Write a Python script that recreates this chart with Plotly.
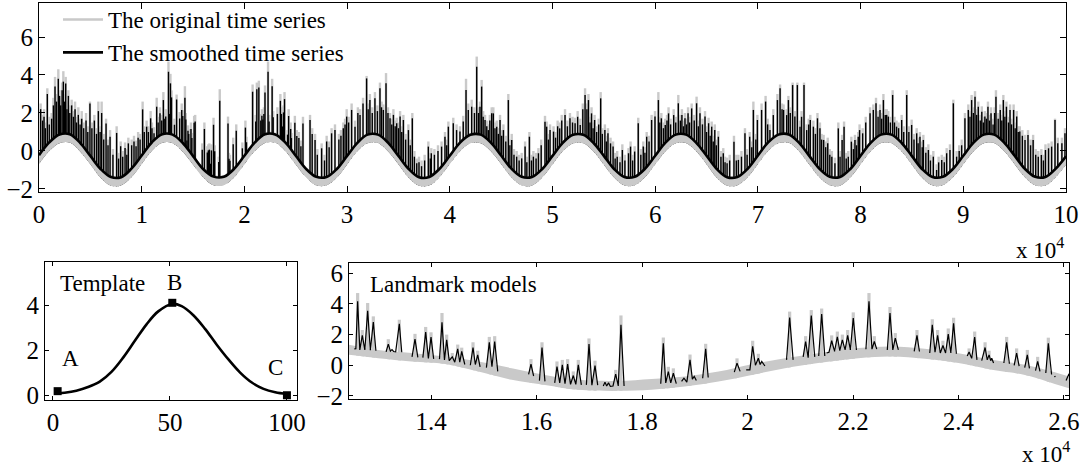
import plotly.graph_objects as go

# ------------------------------------------------------------------ data
# slow component of the series, sampled every 1000 samples (0 .. 100000)
SERIES_GRID = list(range(0, 100001, 1000))
SMOOTH_BASE = [
    -0.22, 0.45, 0.87, 0.88, 0.43, -0.26, -0.95, -1.37, -1.38, -0.93,
    -0.24, 0.46, 0.88, 0.86, 0.42, -0.27, -0.96, -1.35, -1.36, -0.94,
    -0.25, 0.44, 0.88, 0.87, 0.44, -0.25, -0.94, -1.36, -1.37, -0.95,
    -0.26, 0.43, 0.86, 0.86, 0.43, -0.26, -0.95, -1.38, -1.37, -0.94,
    -0.25, 0.44, 0.85, 0.86, 0.44, -0.24, -0.93, -1.36, -1.37, -0.95,
    -0.26, 0.43, 0.85, 0.85, 0.42, -0.26, -0.95, -1.37, -1.36, -0.94,
    -0.25, 0.44, 0.86, 0.86, 0.43, -0.25, -0.95, -1.38, -1.37, -0.94,
    -0.24, 0.45, 0.86, 0.87, 0.44, -0.26, -0.94, -1.36, -1.37, -0.95,
    -0.25, 0.44, 0.86, 0.86, 0.42, -0.27, -0.96, -1.37, -1.36, -0.94,
    -0.25, 0.44, 0.86, 0.86, 0.43, -0.25, -0.94, -1.36, -1.37, -0.93,
    -0.28,
]
ORIG_LOW = [
    -0.68, 0.00, 0.41, 0.44, -0.03, -0.70, -1.41, -1.83, -1.82, -1.39,
    -0.69, 0.01, 0.43, 0.41, -0.04, -0.72, -1.40, -1.81, -1.80, -1.40,
    -0.70, -0.02, 0.42, 0.43, -0.01, -0.71, -1.39, -1.82, -1.81, -1.41,
    -0.71, -0.01, 0.40, 0.42, -0.03, -0.70, -1.41, -1.83, -1.82, -1.38,
    -0.69, -0.01, 0.41, 0.40, -0.02, -0.69, -1.38, -1.81, -1.83, -1.40,
    -0.71, -0.02, 0.39, 0.41, -0.03, -0.72, -1.40, -1.82, -1.81, -1.39,
    -0.70, -0.01, 0.41, 0.42, -0.02, -0.70, -1.41, -1.83, -1.82, -1.39,
    -0.69, 0.00, 0.40, 0.43, -0.01, -0.71, -1.39, -1.81, -1.83, -1.40,
    -0.70, -0.01, 0.42, 0.41, -0.03, -0.72, -1.41, -1.82, -1.80, -1.39,
    -0.70, -0.01, 0.41, 0.42, -0.02, -0.70, -1.39, -1.81, -1.82, -1.38,
    -0.73,
]
ORIG_HIGH = [
    -0.12, 0.55, 0.97, 0.98, 0.53, -0.16, -0.85, -1.27, -1.28, -0.83,
    -0.14, 0.56, 0.98, 0.96, 0.52, -0.17, -0.86, -1.25, -1.26, -0.84,
    -0.15, 0.54, 0.98, 0.97, 0.54, -0.15, -0.84, -1.26, -1.27, -0.85,
    -0.16, 0.53, 0.96, 0.96, 0.53, -0.16, -0.85, -1.28, -1.27, -0.84,
    -0.15, 0.54, 0.95, 0.96, 0.54, -0.14, -0.83, -1.26, -1.27, -0.85,
    -0.16, 0.53, 0.95, 0.95, 0.52, -0.16, -0.85, -1.27, -1.26, -0.84,
    -0.15, 0.54, 0.96, 0.96, 0.53, -0.15, -0.85, -1.28, -1.27, -0.84,
    -0.14, 0.55, 0.96, 0.97, 0.54, -0.16, -0.84, -1.26, -1.27, -0.85,
    -0.15, 0.54, 0.96, 0.96, 0.52, -0.17, -0.86, -1.27, -1.26, -0.84,
    -0.15, 0.54, 0.96, 0.96, 0.53, -0.15, -0.84, -1.26, -1.27, -0.83,
    -0.18,
]

# spikes of the series: position, top of the smoothed series, top of the original
SPIKE_POS = [
    # cycle 0
    160, 350, 490, 620, 810, 1000, 1230, 1400, 1560, 1700,
    1880, 2000, 2110, 2250, 2370, 2500, 2600, 2720, 2860, 3000,
    3180, 3350, 3510, 3650, 3830, 4000, 4160, 4350, 4580, 4750,
    4960, 5150, 5390, 5600, 5780, 5950, 6100, 6300, 6530, 6720,
    6920, 7200, 7560, 7750, 7950, 8150, 8380, 8550, 8700, 9020,
    9250, 9450, 9650, 9840,
    # cycle 1 (before the zoomed window)
    10090, 10250, 10480, 10650, 10870, 11000, 11200, 11460, 11600, 11780,
    11950, 12110, 12250, 12340,
    # zoomed window (landmarks)
    12609, 12697, 12799, 12906, 13190, 13399, 13696, 13899, 14000, 14208,
    14297, 14403, 14506, 14582, 14796, 14885, 15105, 15207, 15895, 16104,
    16388, 16489, 16590, 16697, 16792, 16995, 17109, 17501, 17601, 18404,
    18499, 18594, 18910, 19207, 19801, 20098, 20205, 20799, 21102, 21209,
    21406, 21596, 21703, 21798, 21899, 22005, 22303, 22404, 22701, 22802,
    23213, 23503, 23604, 23705, 23806, 23907, 24201, 24307, 24504, 24580,
    24913, 25102, 25305, 25501, 25703,
    # cycle 2 (after the zoomed window)
    26390, 26600, 26880, 27100, 27520, 27800, 28010, 28250, 28490, 28820,
    29200, 29400, 29630, 29800, 29960,
    # cycle 3
    30150, 30440, 30770, 31050, 31260, 31550, 31900, 32050, 32220, 32450,
    32710, 32950, 33200, 33350, 33530, 33790, 33980, 34180, 34350, 34510,
    34680, 34830, 35000, 35160, 35320, 35480, 35700, 35970, 36150, 36350,
    36550, 36780, 37000, 37250, 37550, 37910, 38100, 38200, 38500, 38850,
    39200, 39530, 39700, 39860,
    # cycle 4
    40340, 40660, 40990, 41310, 41580, 41800, 42130, 42400, 42620, 42800,
    42940, 43100, 43250, 43430, 43600, 43750, 43900, 44080, 44240, 44400,
    44570, 44730, 44890, 45050, 45220, 45450, 45700, 45850, 46030, 46250,
    46510, 46750, 47000, 47330, 47500, 47750, 47950, 48140, 48400, 48630,
    48900, 49270, 49430, 49600, 49760,
    # cycle 5
    50100, 50300, 50500, 50700, 50900, 51220, 51450, 51700, 51950, 52200,
    52450, 52700, 52950, 53170, 53350, 53500, 53650, 53800, 53950, 54100,
    54300, 54500, 54690, 54850, 55100, 55250, 55400, 55650, 55900, 56100,
    56300, 56570, 56800, 57050, 57400, 57600, 57800, 58000, 58350, 58600,
    58840, 59000, 59170, 59400, 59650, 59980,
    # cycle 6
    60310, 60450, 60600, 60800, 60980, 61150, 61300, 61500, 61800, 62000,
    62250, 62450, 62600, 62750, 62900, 63050, 63200, 63350, 63550, 63800,
    64030, 64200, 64360, 64600, 64850, 65000, 65200, 65350, 65500, 65650,
    65800, 65950, 66150, 66400, 66630, 66800, 67000, 67250, 67670, 67900,
    68100, 68400, 68740, 68950, 69200, 69400, 69560, 69800,
    # cycle 7
    69950, 70360, 70750, 70950, 71170, 71500, 71900, 72160, 72350, 72500,
    72800, 72970, 73150, 73380, 73600, 73840, 74100, 74250, 74490, 74750,
    74950, 75100, 75400, 75600, 75800, 76040, 76200, 76400, 76600, 76800,
    77000, 77200, 77500, 77830, 78000, 78200, 78390, 78600, 78800, 79100,
    79300, 79450, 79600, 79770,
    # cycle 8
    79900, 80200, 80500, 80920, 81240, 81500, 81700, 81890, 82050, 82220,
    82400, 82540, 82700, 82900, 83120, 83300, 83500, 83700, 84000, 84200,
    84490, 84700, 84970, 85200, 85460, 85600, 85780, 86000, 86110, 86350,
    86600, 86800, 87080, 87400, 87600, 87900, 88150, 88380, 88700, 89030,
    89350, 89600, 89840,
    # cycle 9
    90160, 90490, 90650, 90810, 90980, 91140, 91300, 91460, 91650, 91800,
    91950, 92100, 92250, 92400, 92550, 92700, 92900, 93050, 93180, 93400,
    93600, 93750, 93900, 94050, 94200, 94400, 94550, 94700, 94900, 95050,
    95200, 95350, 95500, 95750, 96010, 96300, 96550, 96800, 97050, 97300,
    97600, 97800, 98000, 98300, 98600, 98930, 99200, 99600, 99900,
]
SPIKE_SMOOTH = [
    # cycle 0
    2.2, 1.6, 1.8, 1.2, 3.0, 1.4, 1.7, 2.4, 3.4, 2.6,
    3.8, 2.9, 2.4, 3.2, 3.65, 2.6, 3.55, 2.2, 2.9, 2.0,
    2.4, 1.8, 2.2, 1.5, 1.9, 1.4, 1.7, 1.2, 1.6, 1.0,
    2.5, 1.2, 1.6, 0.9, 2.1, 1.0, 2.0, 0.6, 1.45, 0.3,
    0.75, -0.2, 0.95, -0.4, 0.25, -0.3, 0.15, -0.2, 0.4, 0.3,
    0.5, 0.25, 0.7, 0.6,
    # cycle 1
    2.19, 1.0, 1.28, 1.0, 1.72, 1.2, 0.93, 2.33, 1.5, 1.98,
    1.6, 2.68, 1.7, 1.81,
    # zoomed window
    4.17, 1.95, 3.56, 2.82, 1.38, 2.71, 1.71, 2.16, 1.84, 2.80,
    1.66, 0.55, 1.07, 0.9, 1.16, 0.68, 1.49, 1.55, 0.07, 1.16,
    -0.08, 0.03, 0.07, -0.67, 0.03, 1.38, -0.02, -0.58, 2.64, 1.44,
    -0.41, -0.52, 0.36, 1.07, 0.14, 1.23, 0.46, 3.12, 1.55, 3.25,
    3.34, 1.60, 1.86, 1.66, 1.95, 3.08, 4.17, 1.55, 3.41, 1.77,
    1.95, 2.64, 1.95, 1.29, 2.03, 2.73, 0.86, 1.84, 1.16, 0.68,
    1.49, 0.79, 0.68, 0.25, 1.44,
    # cycle 2
    1.63, 0.9, 0.58, -0.2, 0.14, -0.5, 0.5, 0.2, 0.93, 1.1,
    0.6, 0.8, 1.2, 1.4, 1.81,
    # cycle 3
    1.5, 2.16, 1.28, 2.0, 1.9, 2.5, 3.82, 2.2, 2.68, 2.0,
    2.77, 2.1, 3.3, 2.3, 2.16, 3.56, 2.0, 1.72, 1.4, 1.9,
    1.3, 1.46, 1.2, 1.81, 1.0, 1.63, 0.6, 1.1, 0.3, 1.72,
    -0.3, -0.65, -0.6, -0.8, -0.5, 0.23, -0.4, -0.12, -0.2, 0.0,
    0.23, 0.75, 0.3, 1.28,
    # cycle 4
    1.46, 1.1, 1.02, 1.55, 3.21, 2.16, 2.33, 2.0, 4.44, 2.0,
    2.33, 3.39, 1.8, 1.63, 1.3, 1.1, 1.6, 1.98, 1.98, 1.2,
    1.28, 0.9, 1.63, 0.8, 1.1, 0.5, 2.68, 0.3, 0.58, -0.2,
    -0.3, -0.5, -0.39, 0.23, -0.6, 0.75, -0.5, -0.3, -0.4, -0.12,
    0.3, 1.54, 1.28, 0.6, 1.1,
    # cycle 5
    1.02, 0.7, 1.3, 1.19, 1.6, 1.89, 1.3, 1.72, 1.5, 1.46,
    1.8, 1.37, 2.2, 2.95, 2.2, 2.68, 1.5, 1.98, 1.2, 1.63,
    1.0, 1.4, 2.77, 0.9, 1.1, 0.5, 0.93, 0.4, 0.23, -0.4,
    -0.3, -0.6, 0.05, -0.5, -0.12, 0.23, -0.5, -0.03, 1.46, -0.2,
    0.23, -0.1, 0.75, 0.5, 1.63, 1.81,
    # cycle 6
    2.68, 1.5, 1.72, 1.2, 1.37, 1.6, 1.98, 1.4, 1.89, 1.5,
    2.51, 1.6, 1.89, 1.3, 1.72, 1.4, 1.98, 1.5, 2.24, 1.6,
    2.51, 1.3, 1.98, 1.4, 1.81, 1.0, 1.46, 0.8, 1.28, 0.5,
    1.1, 0.3, 0.75, -0.3, -0.12, -0.6, -0.65, -0.5, 0.49, -0.5,
    -0.47, -0.3, 0.93, -0.2, 0.75, 0.2, 2.16, 0.6,
    # cycle 7
    1.63, 2.16, 2.6, 1.4, 1.1, 1.89, 2.68, 3.3, 2.2, 2.16,
    1.89, 2.68, 2.0, 3.47, 1.81, 3.47, 1.28, 1.8, 3.47, 1.1,
    1.4, 1.63, 1.28, 0.9, 1.72, 1.19, 0.6, 0.58, 0.2, 0.4,
    -0.2, -0.3, -0.65, 1.19, -0.3, 0.58, 1.28, -0.4, -0.3, 0.49,
    0.1, 0.58, 0.3, 0.75,
    # cycle 8
    1.1, 0.93, 1.5, 1.98, 2.16, 2.51, 1.8, 2.16, 1.7, 2.68,
    1.9, 1.9, 1.81, 1.5, 2.95, 1.5, 1.28, 1.2, 1.63, 1.0,
    2.95, 1.0, 1.37, 0.6, 0.93, 0.4, 0.75, 0.2, 0.58, -0.1,
    0.05, -0.5, -0.3, -1.0, -0.6, -0.47, -0.6, -0.12, 0.05, 2.51,
    -0.3, 0.0, 0.3,
    # cycle 9
    1.72, 2.16, 1.8, 2.68, 2.0, 2.86, 1.9, 2.33, 1.6, 2.07,
    1.5, 1.81, 1.7, 2.33, 1.6, 1.98, 1.4, 2.0, 2.86, 1.7,
    2.16, 1.6, 2.68, 1.8, 2.33, 1.5, 2.16, 1.4, 2.16, 1.2,
    1.81, 1.0, 1.02, 0.8, 0.58, 0.84, 0.3, 0.58, -0.2, -0.3,
    -0.21, -0.5, 0.05, 0.14, 0.23, 1.63, 0.4, 0.4, 0.93,
]
SPIKE_ORIG = [
    # cycle 0
    2.5, 1.9, 2.2, 1.5, 3.3, 1.8, 2.0, 2.8, 3.9, 3.0,
    4.3, 3.2, 2.8, 3.6, 4.2, 3.0, 3.9, 2.6, 3.2, 2.4,
    2.7, 2.1, 2.6, 1.8, 2.3, 1.7, 2.1, 1.5, 2.0, 1.3,
    2.6, 1.5, 1.9, 1.2, 2.6, 1.3, 2.6, 0.9, 1.7, 0.6,
    1.1, 0.1, 1.3, -0.1, 0.5, 0.0, 0.45, 0.1, 0.7, 0.6,
    0.8, 0.55, 1.0, 0.9,
    # cycle 1
    2.6, 1.3, 1.6, 1.3, 2.1, 1.5, 1.25, 2.8, 1.8, 2.3,
    1.9, 3.1, 2.0, 2.2,
    # zoomed window
    4.71, 2.3, 4.06, 3.19, 1.7, 2.97, 2.05, 2.5, 2.15, 3.41,
    2.0, 0.8, 1.35, 1.15, 1.5, 0.95, 1.85, 1.9, 0.4, 1.5,
    0.25, 0.35, 0.4, -0.4, 0.35, 1.75, 0.3, -0.3, 3.25, 1.81,
    -0.1, -0.2, 0.7, 1.4, 0.45, 1.6, 0.75, 3.5, 1.9, 3.6,
    3.7, 1.95, 2.2, 2.0, 2.3, 3.45, 4.71, 1.9, 3.8, 2.1,
    2.3, 3.0, 2.3, 1.6, 2.4, 3.1, 1.1, 2.2, 1.5, 0.95,
    1.85, 1.1, 1.0, 0.55, 1.8,
    # cycle 2
    1.9, 1.2, 0.9, 0.1, 0.4, -0.2, 0.8, 0.5, 1.2, 1.4,
    0.9, 1.1, 1.5, 1.7, 2.2,
    # cycle 3
    1.8, 2.5, 1.6, 2.3, 2.2, 2.8, 3.95, 2.5, 3.0, 2.3,
    3.1, 2.4, 3.6, 2.6, 2.45, 4.1, 2.3, 2.0, 1.7, 2.2,
    1.6, 1.75, 1.5, 2.1, 1.3, 1.9, 0.9, 1.4, 0.6, 2.0,
    0.0, -0.4, -0.3, -0.5, -0.2, 0.5, -0.1, 0.15, 0.1, 0.3,
    0.5, 1.0, 0.6, 1.55,
    # cycle 4
    1.75, 1.4, 1.3, 1.85, 3.8, 2.5, 2.7, 2.3, 4.97, 2.3,
    2.6, 3.74, 2.1, 1.9, 1.6, 1.4, 1.9, 2.3, 2.3, 1.5,
    1.6, 1.2, 1.9, 1.1, 1.4, 0.8, 3.0, 0.6, 0.9, 0.1,
    0.0, -0.2, -0.1, 0.5, -0.3, 1.0, -0.2, 0.0, -0.1, 0.15,
    0.6, 1.85, 1.55, 0.9, 1.4,
    # cycle 5
    1.3, 1.0, 1.6, 1.5, 1.9, 2.2, 1.6, 2.0, 1.8, 1.75,
    2.1, 1.7, 2.5, 3.3, 2.5, 3.0, 1.8, 2.3, 1.5, 1.9,
    1.3, 1.7, 3.1, 1.2, 1.4, 0.8, 1.2, 0.7, 0.5, -0.1,
    0.0, -0.3, 0.35, -0.2, 0.15, 0.5, -0.2, 0.25, 1.75, 0.1,
    0.5, 0.2, 1.0, 0.8, 1.9, 2.1,
    # cycle 6
    3.1, 1.8, 2.0, 1.5, 1.7, 1.9, 2.3, 1.7, 2.2, 1.8,
    2.95, 1.9, 2.2, 1.6, 2.0, 1.7, 2.3, 1.8, 2.5, 1.9,
    2.86, 1.6, 2.3, 1.7, 2.1, 1.3, 1.75, 1.1, 1.55, 0.8,
    1.4, 0.6, 1.05, 0.0, 0.15, -0.3, -0.35, -0.2, 0.8, -0.2,
    -0.2, 0.0, 1.2, 0.1, 1.0, 0.5, 2.6, 0.9,
    # cycle 7
    1.9, 2.5, 2.9, 1.7, 1.4, 2.2, 3.0, 3.5, 2.5, 2.45,
    2.2, 2.9, 2.3, 3.6, 2.1, 3.6, 1.6, 2.1, 3.6, 1.4,
    1.7, 1.9, 1.6, 1.2, 2.0, 1.5, 0.9, 0.85, 0.5, 0.7,
    0.1, 0.0, -0.35, 1.5, 0.0, 0.85, 1.55, -0.1, 0.0, 0.75,
    0.4, 0.85, 0.6, 1.0,
    # cycle 8
    1.4, 1.2, 1.8, 2.3, 2.45, 2.8, 2.1, 2.45, 2.0, 3.0,
    2.2, 2.2, 2.1, 1.8, 3.2, 1.8, 1.6, 1.5, 1.9, 1.3,
    3.2, 1.3, 1.65, 0.9, 1.2, 0.7, 1.0, 0.5, 0.85, 0.2,
    0.35, -0.2, 0.0, -0.7, -0.3, -0.2, -0.3, 0.15, 0.35, 2.7,
    0.0, 0.3, 0.6,
    # cycle 9
    2.0, 2.45, 2.1, 2.95, 2.3, 3.15, 2.2, 2.6, 1.9, 2.35,
    1.8, 2.1, 2.0, 2.6, 1.9, 2.3, 1.7, 2.3, 3.2, 2.0,
    2.45, 1.9, 2.95, 2.1, 2.6, 1.8, 2.45, 1.7, 2.45, 1.5,
    2.1, 1.3, 1.3, 1.1, 0.85, 1.1, 0.6, 0.85, 0.1, 0.0,
    0.1, -0.2, 0.35, 0.4, 0.5, 1.7, 0.7, 0.7, 1.2,
]

# zoomed window: envelope of the original series
ZOOM_GRID = [12445, 13000, 13630, 14270, 14900, 15530, 16160, 16790, 17550, 18180,
             18810, 19450, 20080, 20710, 21340, 22100, 22730, 23360, 24000, 24630,
             25260, 25890, 26095]
ZOOM_HIGH = [1.34, 1.00, 0.80, 0.57, 0.25, -0.19, -0.63, -0.95, -1.02, -0.89,
             -0.73, -0.41, 0.07, 0.46, 0.79, 1.12, 1.23, 1.07, 0.79, 0.36,
             0.03, -0.52, -0.73]
ZOOM_LOW = [0.68, 0.46, 0.25, 0.08, -0.41, -0.95, -1.28, -1.60, -1.67, -1.60,
            -1.39, -1.06, -0.63, -0.19, 0.14, 0.46, 0.57, 0.42, 0.14, -0.30,
            -0.63, -1.28, -1.50]

# landmark models: one (x, y) list pair per fitted segment
LANDMARK_X = [
    [12546, 12575, 12609, 12650, 12697, 12745, 12799, 12850, 12906, 12955],
    [13140, 13150, 13190, 13230, 13260, 13290, 13330, 13399, 13445],
    [13640, 13696, 13750],
    [13845, 13899, 13950, 14000, 14050],
    [14160, 14208, 14255, 14297, 14345, 14403, 14450, 14506, 14545, 14582, 14640],
    [14745, 14796, 14840, 14885, 14930],
    [15050, 15105, 15155, 15207, 15265],
    [15850, 15895, 15945],
    [16055, 16104, 16160],
    [16345, 16388, 16440, 16489, 16540, 16590, 16645, 16697, 16745, 16792, 16850],
    [16945, 16995, 17050, 17109, 17160],
    [17266, 17298, 17330, 17365, 17400, 17450, 17501, 17550, 17601, 17660],
    [18355, 18404, 18450, 18499, 18545, 18594, 18650],
    [18750, 18795, 18850, 18910, 18955, 18990, 19030],
    [19150, 19207, 19255],
    [19750, 19801, 19860],
    [19975, 20045, 20098, 20150, 20205, 20240, 20270, 20330],
    [20740, 20799, 20865],
    [21055, 21102, 21150, 21209, 21275],
    [21350, 21406, 21465],
    [21500, 21545, 21596, 21650, 21703, 21750, 21798, 21850, 21899, 21950, 22005, 22065],
    [22245, 22303, 22360, 22404, 22450],
    [22650, 22701, 22755, 22802, 22860],
    [23160, 23213, 23260],
    [23455, 23503, 23555, 23604, 23655, 23705, 23755, 23806, 23855, 23907, 23960],
    [24165, 24201, 24250, 24307, 24350],
    [24440, 24504, 24545, 24580, 24610, 24630, 24665],
    [24860, 24913, 24965],
    [25055, 25102, 25150],
    [25255, 25305, 25345],
    [25460, 25501, 25545],
    [25655, 25703, 25765],
    [25815, 25840],
    [26040, 26095],
]
LANDMARK_Y = [
    [1.07, 1.08, 4.17, 1.0, 1.95, 1.0, 3.56, 0.98, 2.82, 0.95],
    [0.9, 0.9, 1.38, 0.92, 1.02, 0.9, 0.88, 2.71, 0.85],
    [0.55, 1.71, 0.52],
    [0.5, 2.16, 0.45, 1.84, 0.42],
    [0.4, 2.80, 0.35, 1.66, 0.3, 0.55, 0.2, 1.07, 0.2, 0.9, 0.05],
    [0.0, 1.16, 0.05, 0.68, -0.1],
    [-0.15, 1.49, -0.1, 1.55, -0.4],
    [-0.6, 0.07, -0.7],
    [-1.0, 1.16, -1.05],
    [-1.15, -0.08, -1.15, 0.03, -1.2, 0.07, -1.25, -0.67, -1.25, 0.03, -1.28],
    [-1.28, 1.38, -1.3, -0.02, -1.3],
    [-1.35, -1.1, -1.35, -1.15, -1.38, -1.35, -0.58, -1.35, 2.64, -1.35],
    [-1.2, 1.44, -1.15, -0.41, -1.15, -0.52, -1.2],
    [-1.05, -0.84, -1.1, 0.36, -0.9, -0.73, -1.0],
    [-0.85, 1.07, -0.8],
    [-0.45, 0.14, -0.4],
    [-0.3, -0.3, 1.23, 0.0, 0.46, 0.05, 0.25, -0.05],
    [0.35, 3.12, 0.35],
    [0.55, 1.55, 0.5, 3.25, 0.55],
    [0.6, 3.34, 0.6],
    [0.8, 0.85, 1.60, 0.9, 1.86, 0.95, 1.66, 1.0, 1.95, 1.0, 3.08, 1.0],
    [1.05, 4.17, 1.05, 1.55, 1.05],
    [1.0, 3.41, 1.0, 1.77, 1.0],
    [0.9, 1.95, 0.9],
    [0.8, 2.64, 0.85, 1.95, 0.8, 1.29, 0.8, 2.03, 0.8, 2.73, 0.75],
    [0.6, 0.86, 0.45, 1.84, 0.35],
    [0.3, 1.16, 0.35, 0.68, 0.3, 0.46, 0.15],
    [0.15, 1.49, 0.1],
    [0.0, 0.79, -0.05],
    [-0.15, 0.68, -0.2],
    [-0.35, 0.25, -0.4],
    [-0.5, 1.44, -0.6],
    [-0.75, -0.72],
    [-1.0, -0.55],
]

# template bump
TEMPLATE_X = [2, 5, 10, 15, 20, 25, 30, 35, 40, 45, 51, 55, 60, 65, 70, 75, 80, 85, 90, 95, 100]
TEMPLATE_Y = [0.10, 0.13, 0.22, 0.38, 0.62, 1.05, 1.68, 2.42, 3.15, 3.72, 4.05,
              3.95, 3.55, 2.95, 2.25, 1.60, 1.02, 0.58, 0.30, 0.15, 0.07]
KEY_LABELS = ["A", "B", "C"]
KEY_X = [2, 51, 100]
KEY_Y = [0.2, 4.1, 0.02]

TOP_TICKS = list(range(0, 100001, 10000))
TOP_TICKTEXT = [str(i) for i in range(11)]
ZOOM_TICKS = [14000, 16000, 18000, 20000, 22000, 24000, 26000]
ZOOM_TICKTEXT = ["1.4", "1.6", "1.8", "2", "2.2", "2.4", "2.6"]

assert len(SPIKE_POS) == len(SPIKE_SMOOTH) == len(SPIKE_ORIG), (len(SPIKE_POS), len(SPIKE_SMOOTH), len(SPIKE_ORIG))
assert len(SERIES_GRID) == len(SMOOTH_BASE) == len(ORIG_LOW) == len(ORIG_HIGH)
for a, b in zip(LANDMARK_X, LANDMARK_Y):
    assert len(a) == len(b)

# ------------------------------------------------------------------ style
FONT = "Liberation Serif"
GRAY = "#c9c9c9"
FLOOR = -3.0  # below the visible y-range: closes fills / spike stems


def stems(xs, tops, bottom):
    X, Y = [], []
    for x, t in zip(xs, tops):
        X += [x, x, None]
        Y += [t, bottom, None]
    return X, Y


def segments(xs_list, ys_list):
    X, Y = [], []
    for xs, ys in zip(xs_list, ys_list):
        X += list(xs) + [None]
        Y += list(ys) + [None]
    return X, Y


fig = go.Figure()

# ---------------- top panel
gx, gy = stems(SPIKE_POS, SPIKE_ORIG, FLOOR)
fig.add_trace(go.Scatter(x=gx, y=gy, mode="lines", line=dict(color=GRAY, width=2.4),
                         name="The original time series", showlegend=True,
                         xaxis="x", yaxis="y", hoverinfo="skip"))
fig.add_trace(go.Scatter(x=SERIES_GRID, y=[FLOOR] * len(SERIES_GRID), mode="lines",
                         line=dict(width=0), showlegend=False, xaxis="x", yaxis="y", hoverinfo="skip"))
fig.add_trace(go.Scatter(x=SERIES_GRID, y=ORIG_LOW, mode="lines", line=dict(width=0, shape="spline"),
                         fill="tonexty", fillcolor="white", showlegend=False,
                         xaxis="x", yaxis="y", hoverinfo="skip"))
fig.add_trace(go.Scatter(x=SERIES_GRID, y=ORIG_HIGH, mode="lines", line=dict(width=0, shape="spline"),
                         fill="tonexty", fillcolor=GRAY, showlegend=False,
                         xaxis="x", yaxis="y", hoverinfo="skip"))
bx, by = stems(SPIKE_POS, SPIKE_SMOOTH, FLOOR)
fig.add_trace(go.Scatter(x=bx, y=by, mode="lines", line=dict(color="black", width=1.4),
                         showlegend=False, xaxis="x", yaxis="y", hoverinfo="skip"))
fig.add_trace(go.Scatter(x=SERIES_GRID, y=[FLOOR] * len(SERIES_GRID), mode="lines",
                         line=dict(width=0), showlegend=False, xaxis="x", yaxis="y", hoverinfo="skip"))
fig.add_trace(go.Scatter(x=SERIES_GRID, y=ORIG_LOW, mode="lines", line=dict(width=0, shape="spline"),
                         fill="tonexty", fillcolor="white", showlegend=False,
                         xaxis="x", yaxis="y", hoverinfo="skip"))
fig.add_trace(go.Scatter(x=SERIES_GRID, y=SMOOTH_BASE, mode="lines", line=dict(width=0, shape="spline"),
                         fill="tonexty", fillcolor=GRAY, showlegend=False,
                         xaxis="x", yaxis="y", hoverinfo="skip"))
fig.add_trace(go.Scatter(x=SERIES_GRID, y=SMOOTH_BASE, mode="lines",
                         line=dict(color="black", width=2.6, shape="spline"),
                         name="The smoothed time series", showlegend=True,
                         xaxis="x", yaxis="y", hoverinfo="skip"))

# ---------------- template panel
fig.add_trace(go.Scatter(x=TEMPLATE_X, y=TEMPLATE_Y, mode="lines",
                         line=dict(color="black", width=2.6, shape="spline"),
                         showlegend=False, xaxis="x2", yaxis="y2", hoverinfo="skip"))
fig.add_trace(go.Scatter(x=KEY_X, y=KEY_Y, mode="markers",
                         marker=dict(symbol="square", size=8, color="black"),
                         showlegend=False, xaxis="x2", yaxis="y2", hoverinfo="skip", cliponaxis=False))

# ---------------- landmark panel
lo, hi = ZOOM_GRID[0], ZOOM_GRID[-1]
zp = [p for p in SPIKE_POS if lo <= p <= hi]
zo = [o for p, o in zip(SPIKE_POS, SPIKE_ORIG) if lo <= p <= hi]
zx, zy = stems(zp, zo, FLOOR)
fig.add_trace(go.Scatter(x=zx, y=zy, mode="lines", line=dict(color=GRAY, width=3.2),
                         showlegend=False, xaxis="x3", yaxis="y3", hoverinfo="skip"))
fig.add_trace(go.Scatter(x=ZOOM_GRID, y=[FLOOR] * len(ZOOM_GRID), mode="lines",
                         line=dict(width=0), showlegend=False, xaxis="x3", yaxis="y3", hoverinfo="skip"))
fig.add_trace(go.Scatter(x=ZOOM_GRID, y=ZOOM_LOW, mode="lines", line=dict(width=0, shape="spline"),
                         fill="tonexty", fillcolor="white", showlegend=False,
                         xaxis="x3", yaxis="y3", hoverinfo="skip"))
fig.add_trace(go.Scatter(x=ZOOM_GRID, y=ZOOM_HIGH, mode="lines", line=dict(width=0, shape="spline"),
                         fill="tonexty", fillcolor=GRAY, showlegend=False,
                         xaxis="x3", yaxis="y3", hoverinfo="skip"))
lx, ly = segments(LANDMARK_X, LANDMARK_Y)
fig.add_trace(go.Scatter(x=lx, y=ly, mode="lines", line=dict(color="black", width=1.2),
                         showlegend=False, xaxis="x3", yaxis="y3", hoverinfo="skip"))

# ------------------------------------------------------------------ layout
W, H = 1083, 475
axis_common = dict(showline=True, linecolor="black", linewidth=1, mirror="ticks",
                   ticks="inside", tickcolor="black", ticklen=6, tickwidth=1,
                   showgrid=False, zeroline=False, automargin=False,
                   tickfont=dict(family=FONT, size=25, color="black"))

fig.update_layout(
    width=W, height=H,
    margin=dict(l=0, r=0, t=0, b=0, autoexpand=False),
    paper_bgcolor="white", plot_bgcolor="white",
    font=dict(family=FONT, color="black"),
    showlegend=True,
    legend=dict(x=58 / W, y=1 + 2 / H, xanchor="left", yanchor="top",
                traceorder="normal",
                bgcolor="rgba(0,0,0,0)", borderwidth=0,
                font=dict(family=FONT, size=23, color="black"),
                itemwidth=40, tracegroupgap=0),
    xaxis=dict(axis_common, domain=[39 / W, 1066 / W], range=[0, 100000],
               tickvals=TOP_TICKS, ticktext=TOP_TICKTEXT, anchor="y"),
    yaxis=dict(axis_common, domain=[1 - 192 / H, 1 - 3 / H], range=[-2.16, 7.79],
               tickvals=[-2, 0, 2, 4, 6], anchor="x"),
    xaxis2=dict(axis_common, domain=[45 / W, 297 / W], range=[-3.4, 104.3],
                tickvals=[0, 50, 100], anchor="y2", ticklen=4),
    yaxis2=dict(axis_common, domain=[1 - 400 / H, 1 - 262 / H], range=[-0.19, 5.9],
                tickvals=[0, 2, 4], anchor="x2", ticklen=4),
    xaxis3=dict(axis_common, domain=[349 / W, 1069 / W], range=[12445, 26095],
                tickvals=ZOOM_TICKS, ticktext=ZOOM_TICKTEXT, anchor="y3", ticklen=4),
    yaxis3=dict(axis_common, domain=[1 - 399 / H, 1 - 263 / H], range=[-2.2, 6.67],
                tickvals=[-2, 0, 2, 4, 6], anchor="x3", ticklen=4),
)

ann_font = dict(family=FONT, size=23, color="black")
annotations = [
    dict(text="Template", x=21, y=4.95, xref="x2", yref="y2", showarrow=False, font=ann_font),
    dict(text="Landmark models", x=14417, y=5.3, xref="x3", yref="y3", showarrow=False, font=ann_font),
    dict(text="x 10<sup>4</sup>", x=1066 / W, y=1 - 248 / H, xref="paper", yref="paper",
         xanchor="right", yanchor="middle", showarrow=False, font=ann_font),
    dict(text="x 10<sup>4</sup>", x=1072 / W, y=1 - 452 / H, xref="paper", yref="paper",
         xanchor="right", yanchor="middle", showarrow=False, font=ann_font),
]
label_pos = {"A": (7.5, 1.65), "B": (52, 5.0), "C": (95, 1.25)}
for name in KEY_LABELS:
    lxp, lyp = label_pos[name]
    annotations.append(dict(text=name, x=lxp, y=lyp, xref="x2", yref="y2",
                            showarrow=False, font=ann_font))
fig.update_layout(annotations=annotations)

fig.write_html("out.html")
